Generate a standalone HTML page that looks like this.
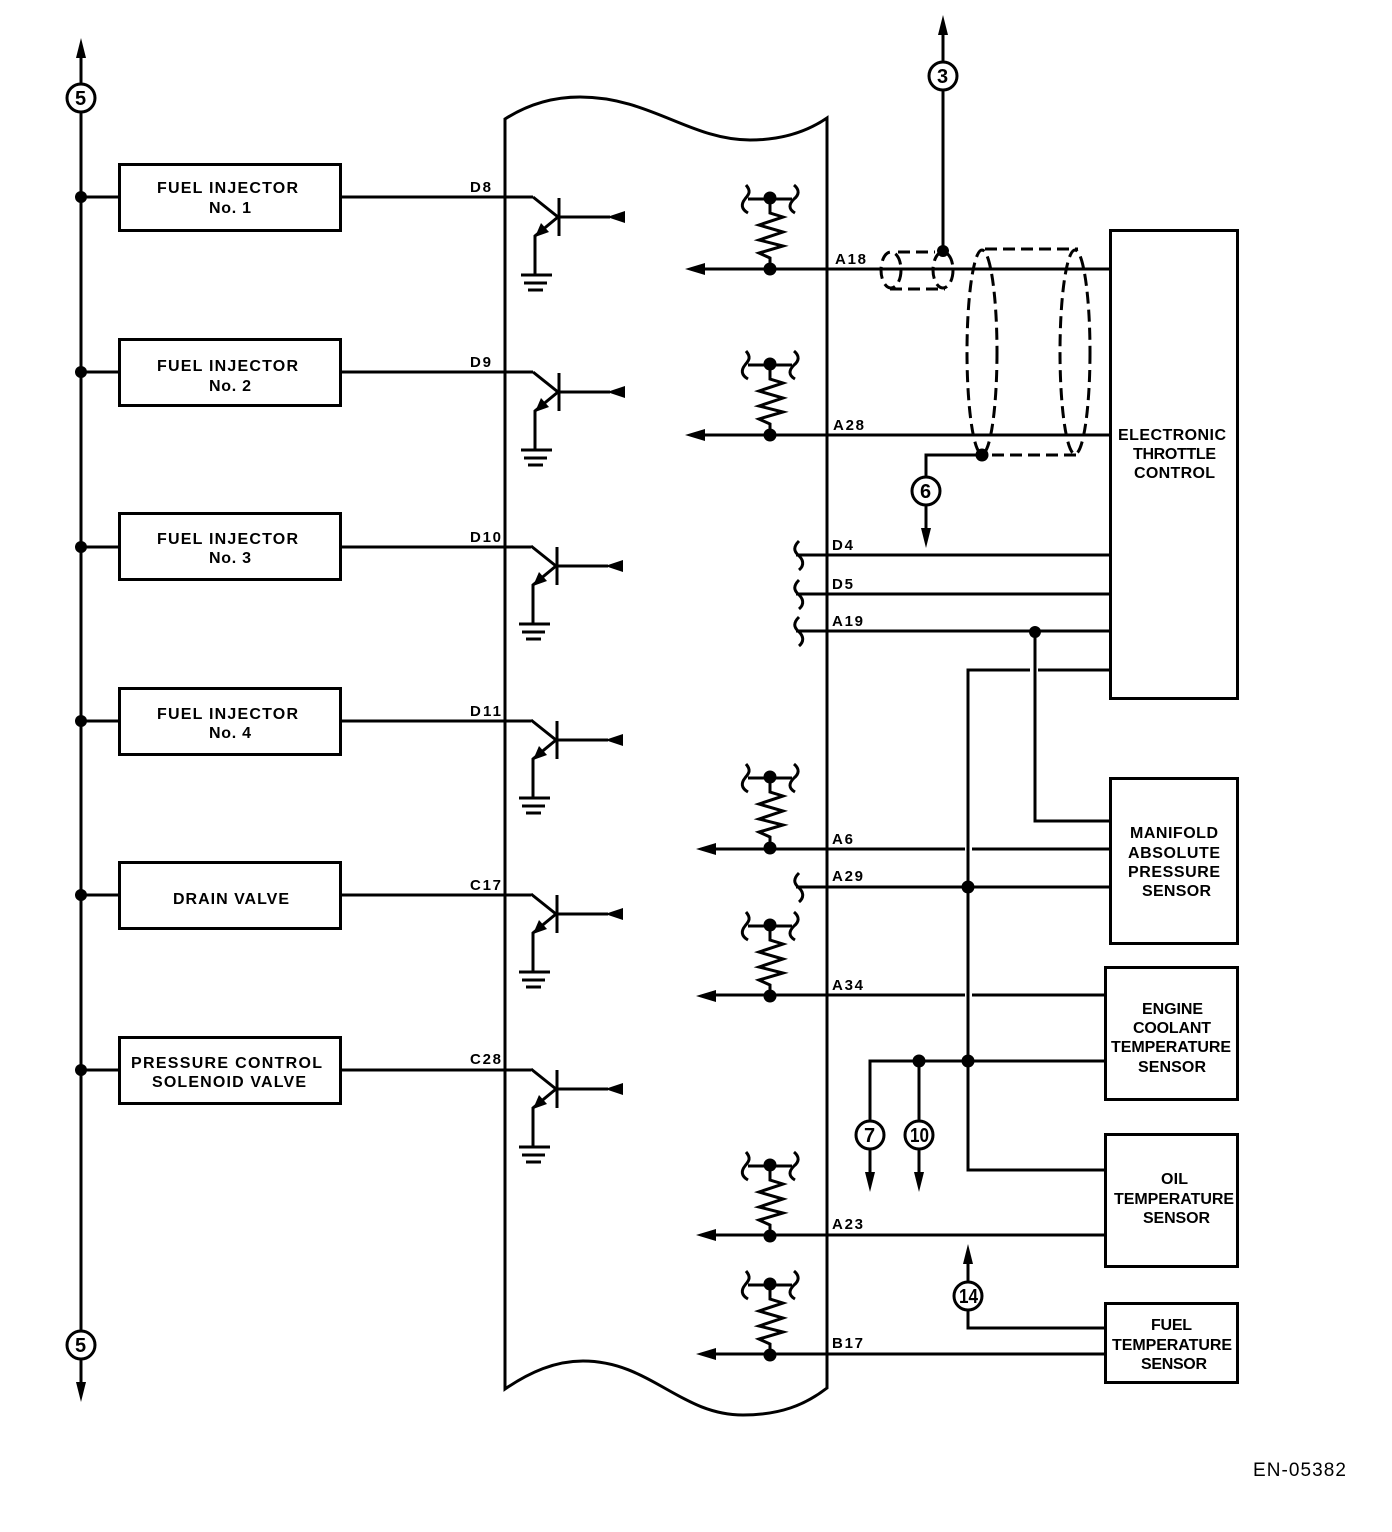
<!DOCTYPE html>
<html><head><meta charset="utf-8"><style>
html,body{margin:0;padding:0;background:#fff}
svg{display:block}
text{font-family:"Liberation Sans",sans-serif;font-weight:bold;fill:#000}
.b{font-size:16px}.p{font-size:15px}.c{font-size:20px}
.l{fill:none;stroke:#000;stroke-width:3}
.d{fill:none;stroke:#000;stroke-width:3;stroke-dasharray:12 6}
</style></head><body>
<svg width="1392" height="1532" viewBox="0 0 1392 1532" xmlns="http://www.w3.org/2000/svg">
<defs>
<g id="tr">
<path class="l" d="M533,0L558,20"/>
<path class="l" d="M559,1V39"/>
<path class="l" d="M558,20H610"/>
<polygon points="607,20 625,14 625,26"/>
<path class="l" d="M558,20L535,39V78"/>
<polygon points="535,40 541,26 549,35"/>
<path class="l" d="M521,78H552M524,86H547M528,93H543"/>
</g>
<g id="rs">
<path class="l" d="M748,1H792"/>
<path class="l" d="M746,-13C752,-6 748,-3 745,1C741,6 741,11 748,15"/>
<path class="l" d="M794,-13C800,-8 799,-3 794,1C789,6 788,11 795,15"/>
<circle cx="770" cy="0" r="6.5"/>
<path class="l" d="M770,0V15L783,19L759,27L783,34L759,42L783,48L759,55L770,60V71"/>
<circle cx="770" cy="71" r="6.5"/>
</g>
<path id="sq" class="l" d="M799,-14C793,-8 794,-4 798,0C803,4 805,10 799,15"/>
</defs>

<path class="l" d="M505,1389V119C530,103 555,97 580,97C650,97 690,140 750,140C780,140 805,133 827,118V1388C805,1405 780,1415 743,1415C680,1415 650,1361 583,1361C555,1361 530,1372 505,1389Z"/>

<path class="l" d="M81,50V1385"/>
<polygon points="81,38 76,58 86,58"/><polygon points="81,1402 76,1382 86,1382"/>
<g fill="#fff" stroke="#000" stroke-width="3">
<rect x="119.500" y="164.500" width="221" height="66"/>
<rect x="119.500" y="339.500" width="221" height="66"/>
<rect x="119.500" y="513.500" width="221" height="66"/>
<rect x="119.500" y="688.500" width="221" height="66"/>
<rect x="119.500" y="862.500" width="221" height="66"/>
<rect x="119.500" y="1037.500" width="221" height="66"/>
<rect x="1110.500" y="230.500" width="127" height="468"/>
<rect x="1110.500" y="778.500" width="127" height="165"/>
<rect x="1105.500" y="967.500" width="132" height="132"/>
<rect x="1105.500" y="1134.500" width="132" height="132"/>
<rect x="1105.500" y="1303.500" width="132" height="79"/>
</g>
<path class="l" d="M81,197H119M81,372H119M81,547H119M81,721H119M81,895H119M81,1070H119"/>
<path class="l" d="M340,197H533M340,372H533M340,547H531M340,721H531M340,895H531M340,1070H531"/>
<g fill="#000"><circle cx="81" cy="197" r="6"/><circle cx="81" cy="372" r="6"/><circle cx="81" cy="547" r="6"/><circle cx="81" cy="721" r="6"/><circle cx="81" cy="895" r="6"/><circle cx="81" cy="1070" r="6"/></g>

<use href="#tr" y="197"/><use href="#tr" y="372"/><use href="#tr" x="-2" y="546"/><use href="#tr" x="-2" y="720"/><use href="#tr" x="-2" y="894"/><use href="#tr" x="-2" y="1069"/>
<use href="#rs" y="198"/><use href="#rs" y="364"/><use href="#rs" y="777"/><use href="#rs" y="925"/><use href="#rs" y="1165"/><use href="#rs" y="1284"/>

<path class="l" d="M700,269H1110M700,435H1110M796,555H1110M796,594H1110M796,631H1110"/>
<path class="l" d="M710,849H965M972,849H1110M796,887H1110M710,995H965M972,995H1105"/>
<path class="l" d="M710,1235H1105M710,1354H1105"/>
<polygon points="685,269 705,263 705,275"/><polygon points="685,435 705,429 705,441"/>
<polygon points="696,849 716,843 716,855"/><polygon points="696,996 716,990 716,1002"/>
<polygon points="696,1235 716,1229 716,1241"/><polygon points="696,1354 716,1348 716,1360"/>
<use href="#sq" y="555"/><use href="#sq" y="594"/><use href="#sq" y="631"/><use href="#sq" y="887"/>

<path class="l" d="M1030,670H968V1170H1105M1038,670H1110"/>
<path class="l" d="M1035,631V821H1110"/>
<circle cx="1035" cy="632" r="6"/>
<path class="l" d="M1105,1061H870V1175M919,1061V1175"/>
<circle cx="968" cy="887" r="6.500"/><circle cx="968" cy="1061" r="6.500"/><circle cx="919" cy="1061" r="6.500"/>
<polygon points="870,1192 865,1172 875,1172"/><polygon points="919,1192 914,1172 924,1172"/>
<path class="l" d="M1105,1328H968V1260"/>
<polygon points="968,1244 963,1264 973,1264"/>

<path class="l" d="M943,30V251"/>
<polygon points="943,15 938,35 948,35"/>
<circle cx="943" cy="251" r="6"/>
<path class="l" d="M982,455H926V535"/>
<polygon points="926,548 921,528 931,528"/>
<circle cx="982" cy="455" r="6.500"/>

<path class="d" d="M898,252H935M890,289H945"/>
<ellipse class="d" cx="891" cy="270" rx="10" ry="18"/>
<ellipse class="d" cx="943" cy="270" rx="10" ry="18"/>
<path class="d" d="M985,249H1078M992,455H1080"/>
<ellipse class="d" cx="982" cy="352" rx="15" ry="102"/>
<ellipse class="d" cx="1075" cy="352" rx="15" ry="102"/>

<g fill="#fff" stroke="#000" stroke-width="3">
<circle cx="81" cy="98" r="14"/><circle cx="943" cy="76" r="14"/><circle cx="926" cy="491" r="14"/>
<circle cx="870" cy="1135" r="14"/><circle cx="919" cy="1135" r="14"/><circle cx="968" cy="1296" r="14"/><circle cx="81" cy="1345" r="14"/>
</g>
<text class="c" x="75" y="105" textLength="12">5</text>
<text class="c" x="937" y="83" textLength="12">3</text>
<text class="c" x="920" y="498" textLength="12">6</text>
<text class="c" x="864" y="1142" textLength="12">7</text>
<text class="c" x="910" y="1142" textLength="19" lengthAdjust="spacingAndGlyphs">10</text>
<text class="c" x="959" y="1303" textLength="19" lengthAdjust="spacingAndGlyphs">14</text>
<text class="c" x="75" y="1352" textLength="12">5</text>

<text class="b" x="157" y="193" textLength="141">FUEL INJECTOR</text><text class="b" x="209" y="213" textLength="42">No. 1</text>
<text class="b" x="157" y="371" textLength="141">FUEL INJECTOR</text><text class="b" x="209" y="391" textLength="42">No. 2</text>
<text class="b" x="157" y="544" textLength="141">FUEL INJECTOR</text><text class="b" x="209" y="563" textLength="42">No. 3</text>
<text class="b" x="157" y="719" textLength="141">FUEL INJECTOR</text><text class="b" x="209" y="738" textLength="42">No. 4</text>
<text class="b" x="173" y="904" textLength="116">DRAIN VALVE</text>
<text class="b" x="131" y="1068" textLength="191">PRESSURE CONTROL</text><text class="b" x="152" y="1087" textLength="154">SOLENOID VALVE</text>

<text class="p" x="470" y="192" textLength="21">D8</text>
<text class="p" x="470" y="367" textLength="21">D9</text>
<text class="p" x="470" y="542" textLength="31">D10</text>
<text class="p" x="470" y="716" textLength="31">D11</text>
<text class="p" x="470" y="890" textLength="31">C17</text>
<text class="p" x="470" y="1064" textLength="31">C28</text>
<text class="p" x="835" y="264" textLength="31">A18</text>
<text class="p" x="833" y="430" textLength="31">A28</text>
<text class="p" x="832" y="550" textLength="21">D4</text>
<text class="p" x="832" y="589" textLength="21">D5</text>
<text class="p" x="832" y="626" textLength="31">A19</text>
<text class="p" x="832" y="844" textLength="21">A6</text>
<text class="p" x="832" y="881" textLength="31">A29</text>
<text class="p" x="832" y="990" textLength="31">A34</text>
<text class="p" x="832" y="1229" textLength="31">A23</text>
<text class="p" x="832" y="1348" textLength="31">B17</text>

<text class="b" x="1118" y="440" textLength="108">ELECTRONIC</text>
<text class="b" x="1133" y="459" textLength="83">THROTTLE</text>
<text class="b" x="1134" y="478" textLength="81">CONTROL</text>
<text class="b" x="1130" y="838" textLength="88">MANIFOLD</text>
<text class="b" x="1128" y="858" textLength="92">ABSOLUTE</text>
<text class="b" x="1128" y="877" textLength="92">PRESSURE</text>
<text class="b" x="1142" y="896" textLength="69">SENSOR</text>
<text class="b" x="1142" y="1014" textLength="61">ENGINE</text>
<text class="b" x="1133" y="1033" textLength="78">COOLANT</text>
<text class="b" x="1111" y="1052" textLength="120">TEMPERATURE</text>
<text class="b" x="1138" y="1072" textLength="68">SENSOR</text>
<text class="b" x="1161" y="1184" textLength="27">OIL</text>
<text class="b" x="1114" y="1204" textLength="120">TEMPERATURE</text>
<text class="b" x="1143" y="1223" textLength="67">SENSOR</text>
<text class="b" x="1151" y="1330" textLength="41">FUEL</text>
<text class="b" x="1112" y="1350" textLength="120">TEMPERATURE</text>
<text class="b" x="1141" y="1369" textLength="66">SENSOR</text>

<text x="1253" y="1476" textLength="93" style="font-size:19px;font-weight:normal">EN-05382</text>
</svg>
</body></html>
